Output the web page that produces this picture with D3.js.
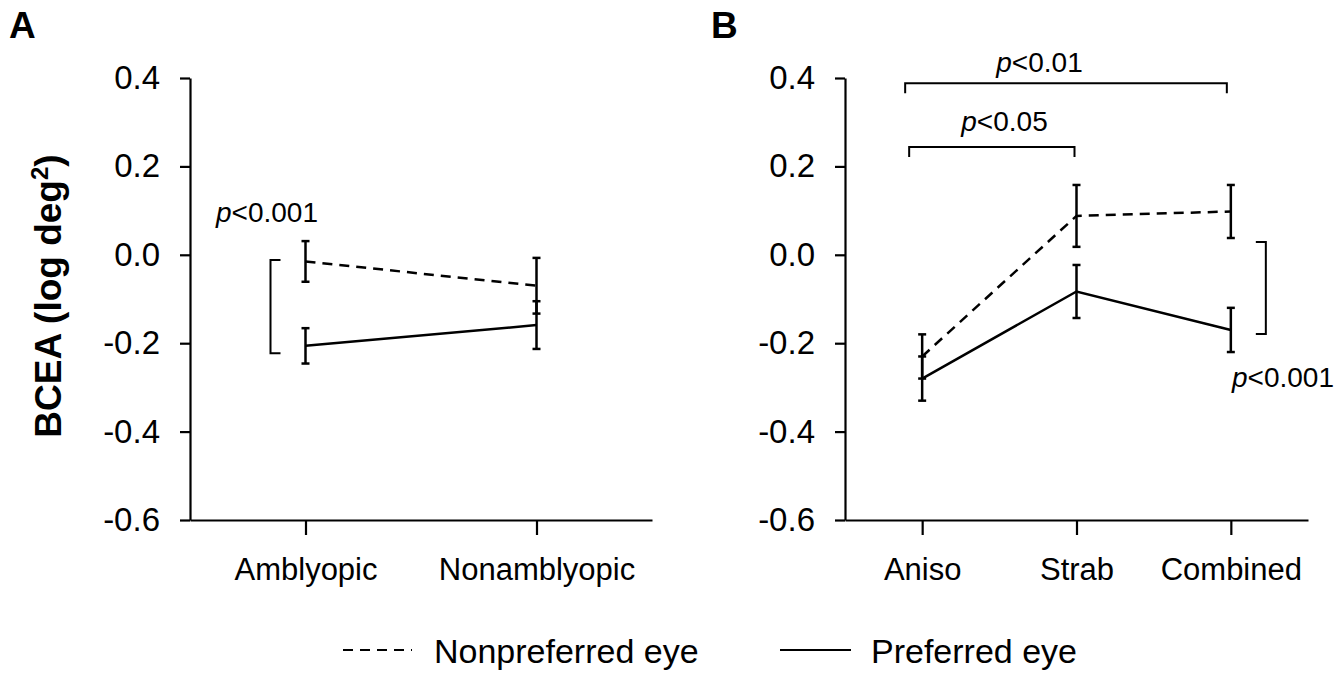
<!DOCTYPE html>
<html>
<head>
<meta charset="utf-8">
<script src="https://cdn.jsdelivr.net/npm/d3@7"></script>
<style>
  body { margin: 0; background: #fff; }
  svg text { font-family: "Liberation Sans", Arial, sans-serif; fill: #000; }
</style>
</head>
<body>
<div id="chart"></div>
<script>
// data
const groupsA = ["Amblyopic", "Nonamblyopic"];
const nonprefA = [-0.015, -0.07];
const nonprefErrA = [0.046, 0.063];
const prefA = [-0.206, -0.159];
const prefErrA = [0.04, 0.054];

const groupsB = ["Aniso", "Strab", "Combined"];
const nonprefB = [-0.23, 0.088, 0.098];
const nonprefErrB = [0.05, 0.07, 0.06];
const prefB = [-0.28, -0.083, -0.17];
const prefErrB = [0.05, 0.06, 0.05];

const yTicks = [0.4, 0.2, 0.0, -0.2, -0.4, -0.6];

const width = 1338, height = 674;

const svg = d3.select("#chart")
  .append("svg")
    .attr("width", width)
    .attr("height", height);

// shared y scale
const y = d3.scaleLinear()
  .domain([-0.6, 0.4])
  .range([520, 78]);

function drawPanel(groups, nonpref, nonprefErr, pref, prefErr, x0, x1) {
  const x = d3.scalePoint()
    .domain(groups)
    .range([x0, x1])
    .padding(0.5);

  const g = svg.append("g");

  // y axis
  const ya = g.append("g")
    .attr("transform", `translate(${x0},0)`)
    .call(d3.axisLeft(y)
      .tickValues(yTicks)
      .tickFormat(d => d.toFixed(1))
      .tickSize(10)
      .tickSizeOuter(0)
      .tickPadding(20));
  ya.selectAll("text").style("font-size", "33px");

  // x axis
  const xa = g.append("g")
    .attr("transform", `translate(0,${y(-0.6)})`)
    .call(d3.axisBottom(x)
      .tickSize(15)
      .tickSizeOuter(0)
      .tickPadding(23));
  xa.selectAll("text").style("font-size", "31px");

  svg.selectAll(".domain, .tick line")
    .attr("stroke", "#000")
    .attr("stroke-width", 2.2);

  const series = [
    {vals: nonpref, err: nonprefErr, dash: "10,7"},
    {vals: pref, err: prefErr, dash: null}
  ];

  const line = d3.line()
    .x((d, i) => x(groups[i]))
    .y(d => y(d));

  series.forEach(s => {
    g.append("path")
      .datum(s.vals)
      .attr("fill", "none")
      .attr("stroke", "#000")
      .attr("stroke-width", 2.5)
      .attr("stroke-dasharray", s.dash)
      .attr("d", line);

    // error bars
    const eb = g.append("g").selectAll("g")
      .data(s.vals)
      .join("g");
    eb.append("line")
      .attr("x1", (d, i) => x(groups[i]))
      .attr("x2", (d, i) => x(groups[i]))
      .attr("y1", (d, i) => y(d + s.err[i]))
      .attr("y2", (d, i) => y(d - s.err[i]));
    eb.append("line")
      .attr("x1", (d, i) => x(groups[i]) - 4)
      .attr("x2", (d, i) => x(groups[i]) + 4)
      .attr("y1", (d, i) => y(d + s.err[i]))
      .attr("y2", (d, i) => y(d + s.err[i]));
    eb.append("line")
      .attr("x1", (d, i) => x(groups[i]) - 4)
      .attr("x2", (d, i) => x(groups[i]) + 4)
      .attr("y1", (d, i) => y(d - s.err[i]))
      .attr("y2", (d, i) => y(d - s.err[i]));
    eb.selectAll("line")
      .attr("stroke", "#000")
      .attr("stroke-width", 2.5);
  });

  return {g, x};
}

const A = drawPanel(groupsA, nonprefA, nonprefErrA, prefA, prefErrA, 190, 652);
const B = drawPanel(groupsB, nonprefB, nonprefErrB, prefB, prefErrB, 845, 1308);

// significance label helper
function pLabel(g, text, px, py, anchor) {
  const t = g.append("text")
    .attr("x", px)
    .attr("y", py)
    .attr("text-anchor", anchor)
    .style("font-size", "28px");
  t.append("tspan").style("font-style", "italic").text("p");
  t.append("tspan").text(text);
}

function bracketPath(pts) {
  return d3.line()(pts);
}

// panel A: vertical bracket between eyes at Amblyopic
{
  const bx = A.x("Amblyopic");
  A.g.append("path")
    .attr("fill", "none")
    .attr("stroke", "#000")
    .attr("stroke-width", 2)
    .attr("d", bracketPath([
      [bx - 25, y(-0.012)], [bx - 35, y(-0.012)],
      [bx - 35, y(-0.223)], [bx - 25, y(-0.223)]
    ]));
  pLabel(A.g, "<0.001", 216, 222, "start");
}

// panel B: vertical bracket at Combined
{
  const bx = B.x("Combined");
  B.g.append("path")
    .attr("fill", "none")
    .attr("stroke", "#000")
    .attr("stroke-width", 2)
    .attr("d", bracketPath([
      [bx + 25, y(0.029)], [bx + 35, y(0.029)],
      [bx + 35, y(-0.179)], [bx + 25, y(-0.179)]
    ]));
  pLabel(B.g, "<0.001", 1232, 387, "start");

  // top brackets between groups
  const top1 = y(0.388), top2 = y(0.244);
  const xa = B.x("Aniso"), xs = B.x("Strab"), xc = B.x("Combined");
  B.g.append("path")
    .attr("fill", "none")
    .attr("stroke", "#000")
    .attr("stroke-width", 2)
    .attr("d", bracketPath([
      [xa - 17, top1 + 10], [xa - 17, top1], [xc - 4, top1], [xc - 4, top1 + 10]
    ]));
  pLabel(B.g, "<0.01", xs - 37, 72, "middle");

  B.g.append("path")
    .attr("fill", "none")
    .attr("stroke", "#000")
    .attr("stroke-width", 2)
    .attr("d", bracketPath([
      [xa - 13, top2 + 10], [xa - 13, top2], [xs - 2, top2], [xs - 2, top2 + 10]
    ]));
  pLabel(B.g, "<0.05", xs - 72, 131, "middle");
}

// panel letters
svg.append("text").attr("x", 9).attr("y", 38)
  .style("font-size", "37px").style("font-weight", "bold").text("A");
svg.append("text").attr("x", 711).attr("y", 38)
  .style("font-size", "37px").style("font-weight", "bold").text("B");

// y axis title
const yt = svg.append("text")
  .attr("transform", `translate(61,${(y(0.4) + y(-0.6)) / 2 - 3}) rotate(-90)`)
  .attr("text-anchor", "middle")
  .style("font-size", "37px")
  .style("font-weight", "bold");
yt.append("tspan").text("BCEA (log deg");
yt.append("tspan").attr("dy", -13).style("font-size", "24px").text("2");
yt.append("tspan").attr("dy", 13).text(")");

// legend
const legend = svg.append("g");
legend.append("line")
  .attr("x1", 343).attr("x2", 412).attr("y1", 650).attr("y2", 650)
  .attr("stroke", "#000").attr("stroke-width", 2).attr("stroke-dasharray", "10,7");
legend.append("text").attr("x", 434).attr("y", 663)
  .style("font-size", "34px").text("Nonpreferred eye");
legend.append("line")
  .attr("x1", 780).attr("x2", 851).attr("y1", 650).attr("y2", 650)
  .attr("stroke", "#000").attr("stroke-width", 2);
legend.append("text").attr("x", 871).attr("y", 663)
  .style("font-size", "34px").text("Preferred eye");
</script>
</body>
</html>
